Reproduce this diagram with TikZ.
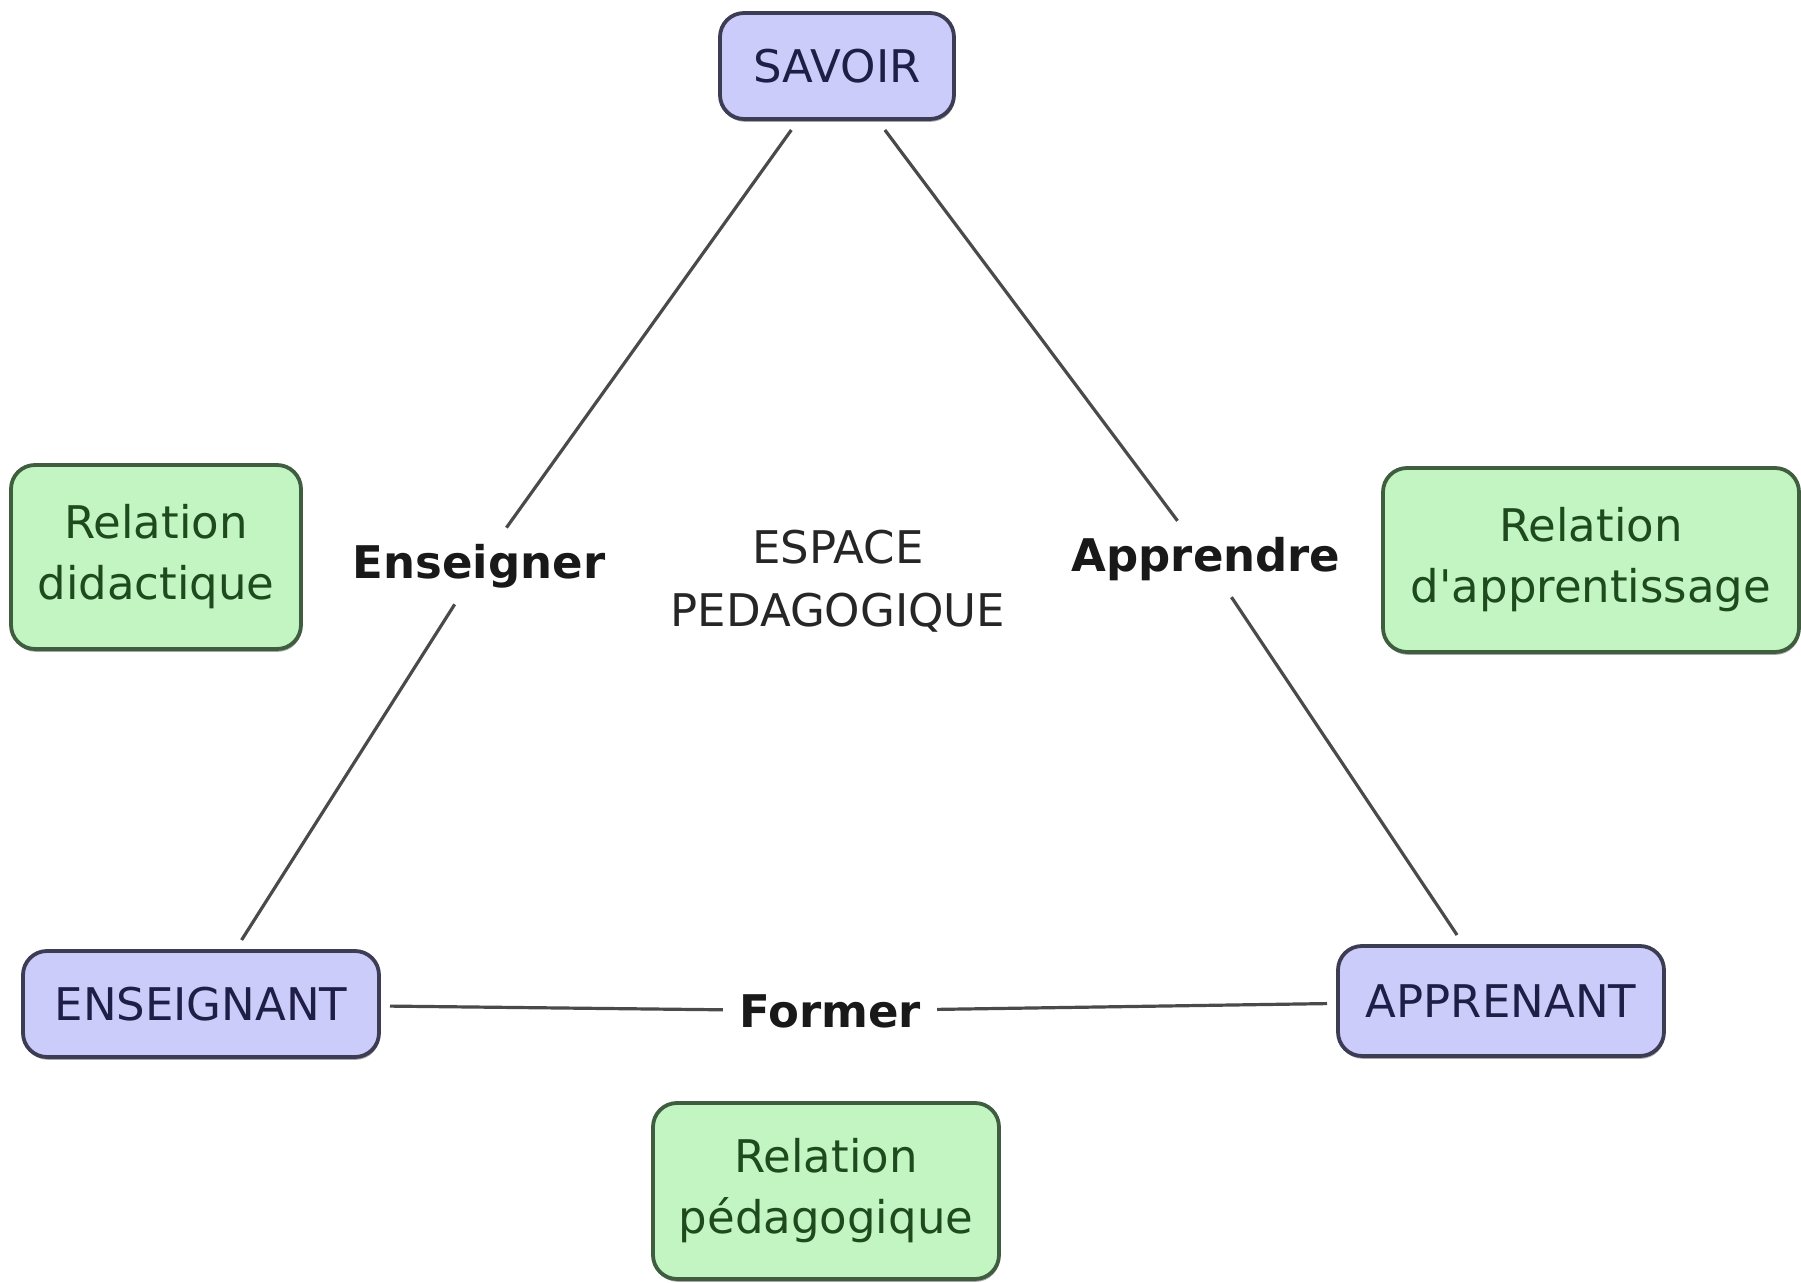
\documentclass[tikz,border=0pt]{standalone}
\usepackage{fontspec}
\setmainfont{DejaVu Sans}[Ligatures=TeXOff]
\usetikzlibrary{shadows}
\definecolor{bfill}{HTML}{CCCCFA}
\definecolor{bline}{HTML}{3C3C55}
\definecolor{btext}{HTML}{1E1E46}
\definecolor{gfill}{HTML}{C2F5C2}
\definecolor{gline}{HTML}{3F5E3F}
\definecolor{gtext}{HTML}{1E4A1E}
\definecolor{conn}{HTML}{4A4A4A}
\tikzset{
  boxbase/.style={line width=1.9pt, rounded corners=12pt, align=center,
    font=\fontsize{22.5}{30.5}\selectfont, outer sep=5.5pt, inner sep=0pt,
    drop shadow={shadow xshift=0.4pt, shadow yshift=-1.4pt, fill=black, opacity=0.35}},
  bluebox/.style={boxbase, draw=bline, fill=bfill, text=btext},
  greenbox/.style={boxbase, draw=gline, fill=gfill, text=gtext},
  rellabel/.style={font=\fontsize{22.5}{30.5}\selectfont\bfseries, text=black!90, inner sep=8pt},
  conline/.style={draw=conn, line width=1.6pt}
}
\begin{document}
\begin{tikzpicture}[x=0.5pt,y=-0.5pt]
\useasboundingbox[fill=white] (0,0) rectangle (1801,1283);

\node[bluebox, minimum width=117pt, minimum height=53pt] (savoir) at (837,66) {SAVOIR};
\node[bluebox, minimum width=178pt, minimum height=53pt] (enseignant) at (201,1004) {ENSEIGNANT};
\node[bluebox, minimum width=163pt, minimum height=55pt] (apprenant) at (1501,1001) {APPRENANT};

\node[greenbox, minimum width=145pt, minimum height=92pt] (rdid) at (156,557) {Relation\\didactique};
\node[greenbox, minimum width=208pt, minimum height=92pt] (rapp) at (1591,560) {Relation\\d'apprentissage};
\node[greenbox, minimum width=173pt, minimum height=88pt] (rped) at (826,1191) {Relation\\pédagogique};

\node[rellabel] (lens) at (479,566) {Enseigner};
\node[rellabel] (lapp) at (1206,559) {Apprendre};
\node[rellabel] (lfor) at (830,1011) {Former};

\node[align=center, font=\fontsize{22.5}{31.5}\selectfont, text=black!85] (espace) at (838,581) {ESPACE\\PEDAGOGIQUE};

\draw[conline] (savoir) -- (lens);
\draw[conline] (lens) -- (enseignant);
\draw[conline] (savoir) -- (lapp);
\draw[conline] (lapp) -- (apprenant);
\draw[conline] (enseignant) -- (lfor);
\draw[conline] (lfor) -- (apprenant);
\end{tikzpicture}
\end{document}
